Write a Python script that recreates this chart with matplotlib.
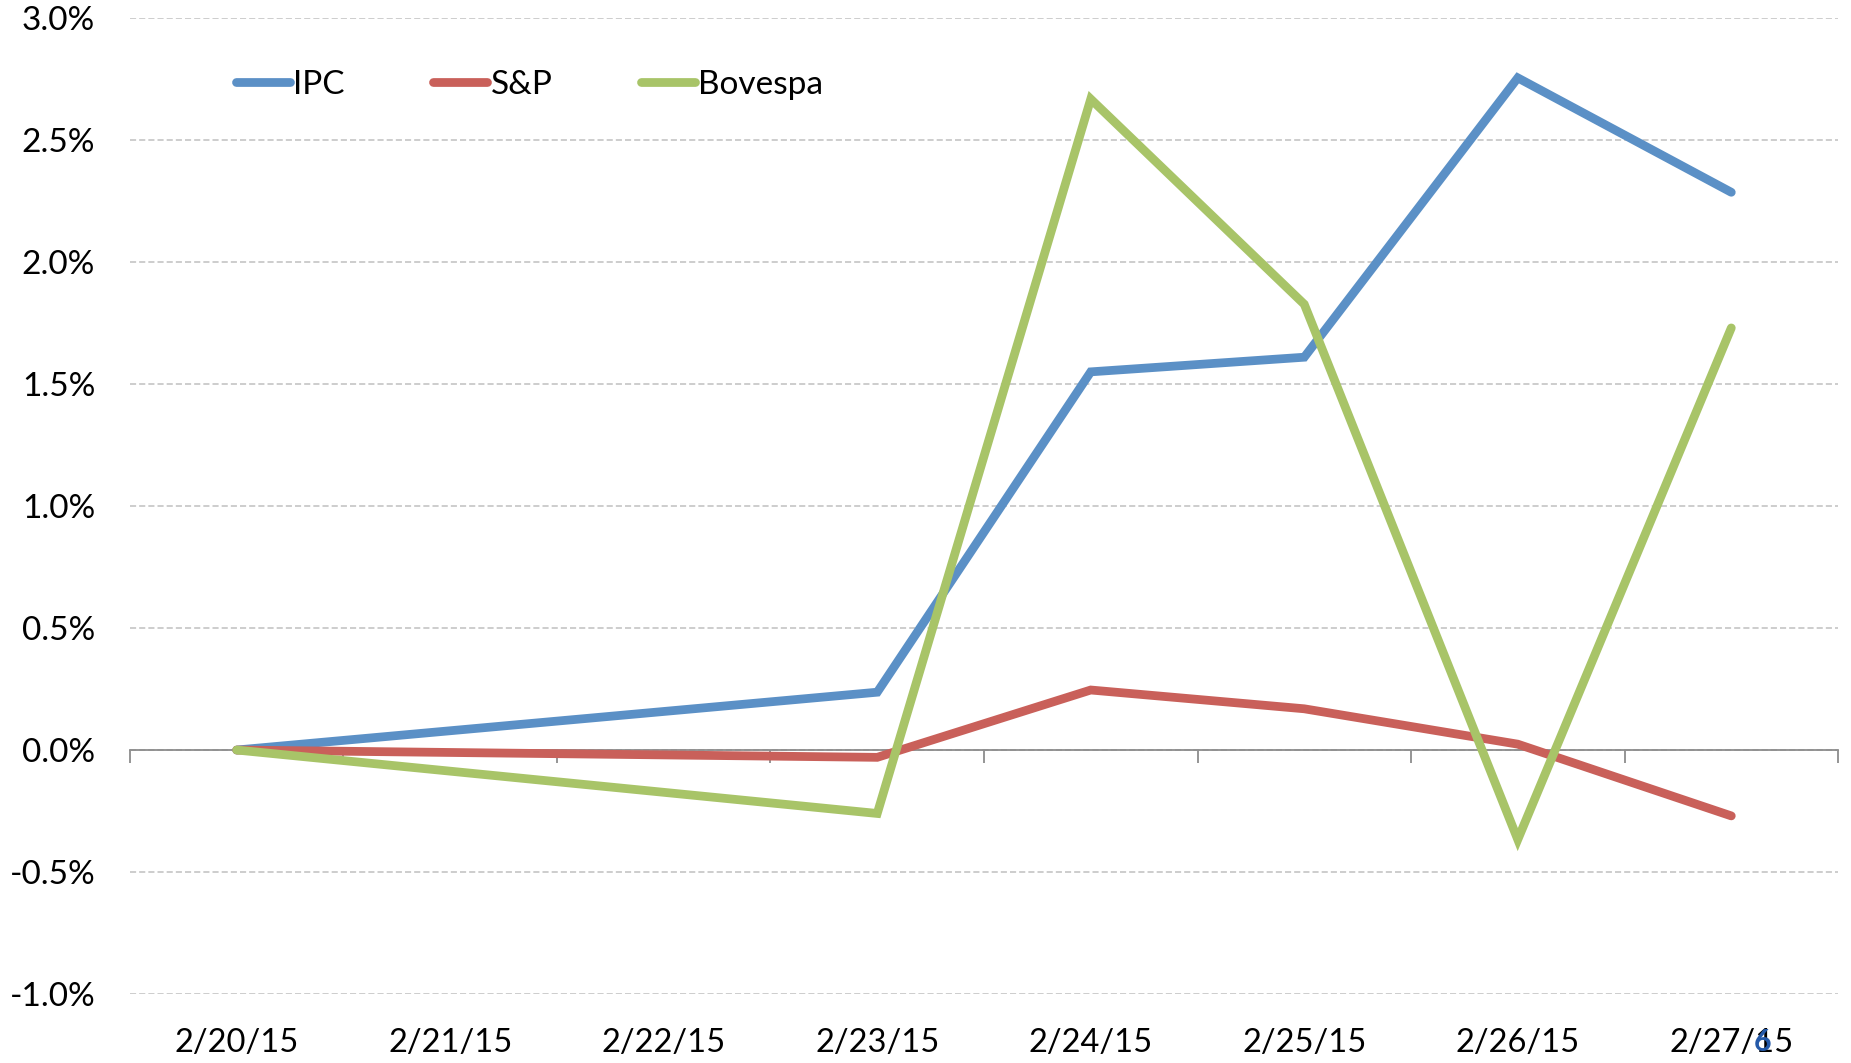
import matplotlib.pyplot as plt
from matplotlib.ticker import FuncFormatter, FixedLocator
import matplotlib.transforms as mtransforms

# 数据
dates = ['2/20/15', '2/21/15', '2/22/15', '2/23/15', '2/24/15', '2/25/15', '2/26/15', '2/27/15']
# 有交易的日期（索引）
trade_idx = [0, 3, 4, 5, 6, 7]
ipc = [0.0, 0.237, 1.55, 1.61, 2.755, 2.286]
sp = [0.0, -0.03, 0.246, 0.169, 0.024, -0.27]
bovespa = [0.0, -0.26, 2.668, 1.827, -0.367, 1.73]
series_names = ['IPC', 'S&P', 'Bovespa']
colors = ['#5B90C6', '#C9605A', '#A8C468']

plt.rcParams['font.family'] = ['Lato', 'DejaVu Sans']

fig = plt.figure(figsize=(18.51, 10.63), dpi=100)
ax = fig.add_axes([0.0702, 0.0649, 0.9228, 0.9181])

for vals, name, c in zip([ipc, sp, bovespa], series_names, colors):
    ax.plot(trade_idx, vals, color=c, lw=6.3, label=name,
            solid_capstyle='round', solid_joinstyle='miter', zorder=3)

ax.set_xlim(-0.5, len(dates) - 0.5)
ax.set_ylim(-1.0, 3.0)

# y轴
ax.set_yticks([-1.0, -0.5, 0.0, 0.5, 1.0, 1.5, 2.0, 2.5, 3.0])
ax.yaxis.set_major_formatter(FuncFormatter(lambda v, p: f'{v:.1f}%'))
ax.tick_params(axis='y', length=0, pad=25, labelsize=24)
ax.grid(axis='y', color='#C0C0C0', ls=(0, (4, 2)), lw=1.1, zorder=0)

for s in ['left', 'right', 'top']:
    ax.spines[s].set_visible(False)
ax.spines['bottom'].set_position(('data', 0))
ax.spines['bottom'].set_color('#8C8C8C')
ax.spines['bottom'].set_linewidth(1.3)

# x轴刻度在类别边界
ax.xaxis.set_major_locator(FixedLocator([i - 0.5 for i in range(len(dates) + 1)]))
ax.set_xticklabels([])
ax.tick_params(axis='x', direction='out', length=9, width=1.3, color='#8C8C8C')

# x轴标签放在底部
trans = mtransforms.blended_transform_factory(ax.transData, ax.transAxes)
for i, d in enumerate(dates):
    ax.text(i, -0.05, d, transform=trans, ha='center', va='center', fontsize=23.5)

# 页码
fig.text(1763 / 1851, 1 - 1042 / 1063, '6', color='#2459A8', ha='center', va='center',
         fontsize=22, fontweight='bold', zorder=5)

ax.legend(loc='center left', bbox_to_anchor=(236 / 1851, 1 - 85 / 1063),
          bbox_transform=fig.transFigure, ncol=3, frameon=False, fontsize=24,
          handlelength=1.62, handletextpad=0.1, columnspacing=2.65,
          borderpad=0, borderaxespad=0)

plt.savefig('out.png', dpi=100)
